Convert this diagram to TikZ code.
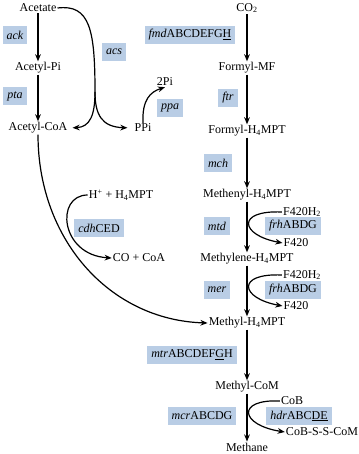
\documentclass[tikz,border=0pt]{standalone}
\usepackage{fontspec}
\setmainfont{Liberation Serif}
\usetikzlibrary{arrows.meta}
\definecolor{genefill}{RGB}{185,205,229}
\tikzset{
  cpd/.style={font=\fontsize{12}{14}\selectfont,inner sep=1pt},
  gene/.style={fill=genefill,font=\fontsize{12}{14}\selectfont,
    minimum height=18pt,inner xsep=4pt,inner ysep=0pt},
  rxn/.style={line width=1.2pt,-{Stealth[length=2.5mm,width=2mm]}},
  trunk/.style={line width=1.2pt}
}
\newcommand{\gname}[2]{\textit{#1}#2}

\begin{document}
\begin{tikzpicture}[x=1pt,y=-1pt]
  \useasboundingbox (0,0) rectangle (358,454);
  % acetate side
  \node[cpd] (acetate) at (38,8) {Acetate};
  \node[cpd] (acetylpi) at (38,68) {Acetyl-Pi};
  \node[cpd] (acetylcoa) at (38,128) {Acetyl-CoA};
  \node[cpd] (ppi) at (143,128) {PPi};
  \node[cpd] (twopi) at (165,82) {2Pi};
  \node[gene] (ack) at (15,35) {\gname{ack}{}};
  \node[gene] (pta) at (15,96) {\gname{pta}{}};
  \node[gene] (acs) at (114,52) {\gname{acs}{}};
  \node[gene] (ppa) at (170,108) {\gname{ppa}{}};
  \coordinate (split) at (95,92);
  \draw[rxn] (acetate) -- (acetylpi);
  \draw[rxn] (acetylpi) -- (acetylcoa);
  \draw[trunk] (acetate.east) .. controls (90,4) and (95,30) .. (split);
  \draw[rxn,shorten >=4pt] (split) .. controls (95,115) and (90,127) .. (acetylcoa.east);
  \draw[rxn,shorten >=6pt] (split) .. controls (95,115) and (102,127) .. (ppi.west);
  \draw[rxn] (ppi.north) .. controls (142,100) and (150,92) .. (twopi.south);
  % CO2 side
  \node[cpd] (cotwo) at (247,8) {CO\textsubscript{2}};
  \node[cpd] (formylmf) at (247,68) {Formyl-MF};
  \node[cpd] (formylmpt) at (247,131) {Formyl-H\textsubscript{4}MPT};
  \node[cpd] (methenyl) at (247,195) {Methenyl-H\textsubscript{4}MPT};
  \node[cpd] (methylene) at (247,259) {Methylene-H\textsubscript{4}MPT};
  \node[cpd] (methylmpt) at (247,323) {Methyl-H\textsubscript{4}MPT};
  \node[cpd] (methylcom) at (247,387) {Methyl-CoM};
  \node[cpd] (methane) at (247,447) {Methane};
  \node[gene] (fmd) at (190,35) {\gname{fmd}{ABCDEFG\underline{H}}};
  \node[gene] (ftr) at (228,98) {\gname{ftr}{}};
  \node[gene] (mch) at (218,163) {\gname{mch}{}};
  \node[gene] (mtd) at (217,226) {\gname{mtd}{}};
  \node[gene] (mer) at (217,290) {\gname{mer}{}};
  \node[gene] (mtr) at (192,355) {\gname{mtr}{ABCDEF\underline{G}H}};
  \node[gene] (mcr) at (202,416) {\gname{mcr}{ABCDG}};
  \draw[rxn] (cotwo) -- (formylmf);
  \draw[rxn] (formylmf) -- (formylmpt);
  \draw[rxn] (formylmpt) -- (methenyl);
  \draw[rxn] (methenyl) -- (methylene);
  \draw[rxn] (methylene) -- (methylmpt);
  \draw[rxn] (methylmpt) -- (methylcom);
  \draw[rxn] (methylcom) -- (methane);
  % cofactors
  \node[gene] (frhA) at (293,226) {\gname{frh}{ABDG}};
  \node[cpd] (fhtwoA) at (302,212) {F420H\textsubscript{2}};
  \node[cpd] (ffourA) at (296,243) {F420};
  \node[gene] (frhB) at (293,290) {\gname{frh}{ABDG}};
  \node[cpd] (fhtwoB) at (302,275) {F420H\textsubscript{2}};
  \node[cpd] (ffourB) at (296,306) {F420};
  \node[gene] (hdr) at (299,416) {\gname{hdr}{ABC\underline{DE}}};
  \node[cpd] (cob) at (292,401) {CoB};
  \node[cpd] (cobscom) at (322,432) {CoB-S-S-CoM};
  \draw[rxn] (fhtwoA.west) .. controls (236,210) and (240,235) .. (ffourA.west);
  \draw[rxn] (fhtwoB.west) .. controls (236,273) and (240,298) .. (ffourB.west);
  \draw[rxn] (cob.west) .. controls (236,399) and (240,425) .. (cobscom.west);
  % CO dehydrogenase
  \node[cpd] (hmpt) at (121,195) {H\textsuperscript{+} + H\textsubscript{4}MPT};
  \node[cpd] (cocoa) at (139,258) {CO + CoA};
  \node[gene] (cdh) at (99,228) {\gname{cdh}{CED}};
  \draw[rxn] (hmpt.west) .. controls (55,195) and (60,255) .. (cocoa.west);
  \draw[rxn] (acetylcoa.south) .. controls (38,240) and (110,320) .. (methylmpt.west);
\end{tikzpicture}
\end{document}
